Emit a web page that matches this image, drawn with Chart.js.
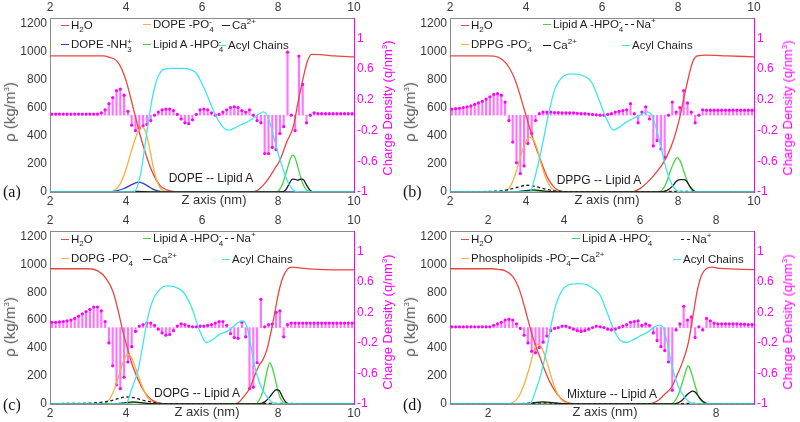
<!DOCTYPE html>
<html>
<head>
<meta charset="utf-8">
<script src="https://cdn.jsdelivr.net/npm/chart.js@4.4.1/dist/chart.umd.min.js"></script>
<style>
  body { margin:0; background:#fff; font-family:"Liberation Sans", Arial, sans-serif; }
  #wrap { position:relative; width:800px; height:422px; overflow:hidden; }
  .panel { position:absolute; width:400px; height:211px; }
  .panel canvas { position:absolute; left:0; top:0; }
  .txt { position:absolute; white-space:nowrap; line-height:16px; color:#1e1e1e; transform:translate(0,-50%); }
  .mid { transform:translate(-50%,-50%); }
  .rot { transform:translate(-50%,-50%) rotate(-90deg); }
  .lg { font-size:11.5px; }
  .note { font-size:12px; }
  .zl { font-size:13px; color:#333; }
  .tag { font-family:"Liberation Serif", "Times New Roman", serif; font-size:16px; color:#111; }
  .ytl { font-size:15px; color:#555; }
  .ytr { font-size:13px; color:#ff00ff; }
  .sw { display:inline-block; width:8px; height:0; border-top:1.4px solid; vertical-align:middle; margin:0 2px 0 0; }
  .sw.dash { border-top-style:dashed; width:9px; margin-left:2px; }
  .ss { display:inline-block; vertical-align:-4px; font-size:8px; line-height:8px; }
  .ss span { display:block; }
  sub, sup { font-size:8px; line-height:0; }
</style>
</head>
<body>
<div id="wrap"></div>
<script>
// ---- tick labels
const rhoTicks = [0, 200, 400, 600, 800, 1000, 1200];
const chargeTicks = [-1, -0.6, -0.2, 0.2, 0.6, 1];
const zTicksABC = [2, 4, 6, 8, 10];
const zTicksD = [2, 4, 6, 8];
const BIN = 0.1;

// ---- (a) DOPE -- Lipid A : [z (nm), rho (kg/m3)]
const aWater = [[2,968],[3.4,968],[3.53,962],[3.75,935],[3.88,880],[4.01,785],[4.14,653],[4.25,535],[4.36,416],[4.49,297],[4.62,190],[4.74,115],[4.9,45],[5.07,15],[5.3,2],[5.5,0],[7.25,0],[7.45,10],[7.6,45],[7.75,95],[7.9,160],[8.05,226],[8.23,356],[8.4,463],[8.53,641],[8.66,808],[8.77,927],[8.88,979],[9.1,978],[9.5,968],[10,962]];
const aPO4 = [[2,0],[3.55,0],[3.7,12],[3.85,60],[4.0,160],[4.15,300],[4.3,420],[4.4,465],[4.5,440],[4.6,340],[4.7,200],[4.8,90],[4.9,30],[5.0,8],[5.1,0],[10,0]];
const aNH3 = [[2,0],[3.55,0],[3.75,8],[3.95,25],[4.1,45],[4.25,65],[4.32,70],[4.45,62],[4.6,38],[4.75,15],[4.9,4],[5.05,0],[10,0]];
const aHPO4 = [[2,0],[7.95,0],[8.05,20],[8.15,80],[8.25,170],[8.33,240],[8.39,262],[8.46,235],[8.55,150],[8.65,60],[8.75,15],[8.85,2],[8.95,0],[10,0]];
const aCa = [[2,0],[3.9,0],[4.3,5],[4.7,0],[8.1,0],[8.2,15],[8.3,60],[8.38,92],[8.45,90],[8.52,84],[8.6,92],[8.66,90],[8.75,50],[8.85,10],[8.95,0],[10,0]];
const aAcyl = [[2,0],[4.2,0],[4.3,40],[4.4,150],[4.5,330],[4.6,520],[4.7,680],[4.8,790],[4.9,850],[5.0,872],[5.2,880],[5.5,880],[5.7,870],[5.85,845],[6.0,770],[6.15,680],[6.3,580],[6.45,500],[6.6,450],[6.72,440],[6.85,455],[7.0,475],[7.2,500],[7.35,525],[7.5,555],[7.62,570],[7.7,550],[7.8,480],[7.9,380],[8.0,280],[8.1,190],[8.2,110],[8.3,50],[8.4,15],[8.5,2],[8.6,0],[10,0]];
const aCharge = [0.015,0.015,0.015,0.015,0.015,0.015,0.015,0.015,0.015,0.015,0.015,0.015,0.015,
  0.03,0.07,0.15,0.23,0.32,0.34,0.26,0.05,-0.13,-0.2,-0.17,-0.14,-0.12,-0.07,0.0,0.04,0.07,0.08,
  0.08,0.06,0.01,-0.05,-0.1,-0.11,-0.06,0.01,0.07,0.08,0.07,0.03,0.0,0.01,0.04,0.07,0.1,0.11,0.1,
  0.06,0.04,0.07,0.0,-0.07,-0.1,-0.5,-0.5,-0.42,-0.45,-0.24,-0.15,0.82,0.0,-0.2,0.77,0.4,-0.1,0.0,0.03,
  0.02,0.02,0.02,0.02,0.02,0.02,0.02,0.02,0.02,0.02];

// ---- (b) DPPG -- Lipid A
const bWater = [[2,968],[3.0,968],[3.26,960],[3.48,915],[3.66,832],[3.79,737],[3.92,618],[4.05,499],[4.18,380],[4.32,273],[4.45,178],[4.58,95],[4.72,40],[4.85,12],[5.0,2],[5.2,0],[6.7,0],[6.85,5],[7.0,24],[7.18,65],[7.37,120],[7.57,190],[7.7,250],[7.88,368],[8.05,535],[8.18,700],[8.3,843],[8.4,935],[8.51,968],[8.75,974],[9.3,968],[10,962]];
const bPO4 = [[2,0],[3.4,0],[3.5,10],[3.6,45],[3.7,110],[3.8,200],[3.9,290],[4.0,360],[4.1,388],[4.2,370],[4.3,300],[4.4,200],[4.5,115],[4.6,55],[4.7,20],[4.85,5],[5.0,0],[10,0]];
const bHPO4 = [[2,0],[3.8,0],[4.2,8],[4.6,0],[7.5,0],[7.6,20],[7.7,70],[7.8,150],[7.9,215],[7.98,245],[8.05,225],[8.15,150],[8.25,70],[8.35,20],[8.45,0],[10,0]];
const bNa = [[2,2],[3.0,4],[3.5,15],[3.8,35],[4.0,48],[4.2,42],[4.4,28],[4.7,10],[5.0,3],[5.3,0],[7.3,0],[7.8,4],[8.3,4],[8.6,2],[10,2]];
const bCa = [[2,0],[3.7,0],[4.0,10],[4.2,15],[4.4,10],[4.7,2],[5.0,0],[7.5,0],[7.7,10],[7.85,40],[7.95,75],[8.05,88],[8.15,88],[8.22,80],[8.3,45],[8.4,12],[8.5,0],[10,0]];
const bAcyl = [[2,0],[4.1,0],[4.23,100],[4.4,297],[4.58,535],[4.75,725],[4.97,820],[5.19,840],[5.46,832],[5.72,784],[5.89,680],[6.0,600],[6.12,520],[6.3,440],[6.47,463],[6.65,499],[6.82,523],[7.0,546],[7.18,570],[7.31,546],[7.44,440],[7.57,297],[7.7,154],[7.83,59],[7.95,12],[8.1,0],[10,0]];
const bCharge = [0.08,0.085,0.09,0.1,0.11,0.12,0.14,0.16,0.18,0.21,0.24,0.27,0.28,0.26,0.17,
  -0.07,-0.35,-0.62,-0.76,-0.66,-0.37,-0.24,-0.07,0.02,0.04,0.04,0.04,0.035,0.035,0.03,0.03,0.03,0.03,
  0.025,0.02,0.02,0.015,0.01,0.005,0.0,0.0,0.01,0.02,0.04,0.05,0.06,0.07,0.15,0.02,-0.1,0.04,0.11,-0.05,
  -0.4,-0.33,-0.44,-0.55,0.0,0.17,0.04,0.1,0.32,0.16,0.04,-0.1,0.0,0.07,
  0.065,0.065,0.065,0.065,0.065,0.065,0.065,0.065,0.065,0.065,0.065,0.065,0.065];

// ---- (c) DOPG -- Lipid A
const cWater = [[2,968],[3.0,968],[3.26,953],[3.48,898],[3.66,803],[3.79,672],[3.92,518],[4.05,387],[4.18,268],[4.32,173],[4.45,102],[4.58,55],[4.72,22],[4.9,5],[5.1,0],[6.8,0],[6.95,8],[7.09,50],[7.26,115],[7.39,205],[7.5,275],[7.61,320],[7.72,400],[7.82,520],[7.92,660],[8.01,790],[8.12,900],[8.25,965],[8.36,980],[8.6,972],[9.2,962],[10,960]];
const cPO4 = [[2,0],[3.35,0],[3.5,15],[3.6,50],[3.7,110],[3.8,190],[3.9,280],[4.0,345],[4.05,355],[4.15,330],[4.25,260],[4.35,180],[4.45,110],[4.55,55],[4.65,25],[4.8,5],[4.95,0],[10,0]];
const cHPO4 = [[2,0],[3.8,0],[4.25,10],[4.7,0],[7.4,0],[7.5,25],[7.6,90],[7.7,220],[7.78,295],[7.85,260],[7.95,150],[8.05,50],[8.15,10],[8.25,0],[10,0]];
const cNa = [[2,3],[3.0,6],[3.5,18],[3.8,38],[4.0,50],[4.2,45],[4.4,30],[4.7,12],[5.0,3],[5.3,0],[7.3,0],[7.8,5],[8.3,4],[8.6,2],[10,2]];
const cCa = [[2,0],[3.7,0],[4.0,10],[4.2,15],[4.4,10],[4.7,2],[5.0,0],[7.5,0],[7.65,15],[7.75,40],[7.85,75],[7.95,102],[8.02,100],[8.1,60],[8.2,15],[8.3,0],[10,0]];
const cAcyl = [[2,0],[4.0,0],[4.14,100],[4.32,245],[4.45,435],[4.58,625],[4.71,744],[4.89,820],[5.06,846],[5.28,839],[5.5,803],[5.72,696],[5.94,525],[6.12,440],[6.3,465],[6.47,500],[6.65,518],[6.82,554],[6.96,585],[7.07,594],[7.18,554],[7.26,459],[7.35,316],[7.46,197],[7.57,114],[7.7,55],[7.85,12],[8.0,0],[10,0]];
const cCharge = [0.07,0.07,0.075,0.08,0.09,0.1,0.12,0.15,0.18,0.21,0.24,0.27,0.27,0.22,0.08,
  -0.2,-0.5,-0.75,-0.8,-0.65,-0.45,-0.25,-0.05,0.02,0.04,0.06,0.06,0.03,-0.02,-0.07,-0.1,-0.09,-0.04,
  0.02,0.05,0.04,0.02,0.01,0.01,0.02,0.02,0.03,0.04,0.06,0.08,0.08,0.03,-0.08,-0.13,-0.14,0.07,-0.12,
  -0.8,-0.78,-0.46,0.37,0.01,0.04,0.05,0.2,0.22,-0.12,0.04,
  0.06,0.06,0.06,0.06,0.06,0.06,0.06,0.06,0.06,0.06,0.06,0.06,0.06,0.06,0.06,0.06,0.06];

// ---- (d) Mixture -- Lipid A
const dWater = [[1,968],[2.1,968],[2.3,962],[2.44,955],[2.66,910],[2.83,815],[2.96,696],[3.1,554],[3.23,435],[3.36,340],[3.49,245],[3.62,162],[3.75,100],[3.9,45],[4.05,15],[4.25,2],[4.4,0],[6.2,0],[6.35,8],[6.5,30],[6.65,70],[6.83,120],[7.0,221],[7.14,316],[7.27,435],[7.4,640],[7.51,815],[7.62,922],[7.75,969],[7.89,980],[8.1,970],[9,962]];
const dPO4 = [[1,0],[2.5,0],[2.65,10],[2.8,50],[2.95,140],[3.1,270],[3.22,390],[3.32,428],[3.42,400],[3.55,300],[3.68,180],[3.8,90],[3.92,35],[4.05,10],[4.2,0],[9,0]];
const dHPO4 = [[1,0],[6.8,0],[6.9,15],[7.0,60],[7.1,140],[7.2,230],[7.26,272],[7.32,250],[7.42,160],[7.52,70],[7.62,20],[7.72,3],[7.8,0],[9,0]];
const dNa = [[1,2],[2.8,3],[3.2,7],[3.45,9],[3.8,5],[4.3,0],[6.8,0],[7.3,4],[7.8,2],[9,2]];
const dCa = [[1,0],[2.9,0],[3.2,8],[3.45,15],[3.7,10],[4.0,2],[4.3,0],[6.9,0],[7.0,8],[7.1,25],[7.2,55],[7.3,80],[7.38,92],[7.45,85],[7.55,50],[7.65,20],[7.75,5],[7.85,0],[9,0]];
const dAcyl = [[1,0],[3.1,0],[3.23,78],[3.4,221],[3.54,387],[3.67,577],[3.8,720],[3.97,820],[4.19,858],[4.41,862],[4.63,851],[4.82,815],[4.95,780],[5.1,680],[5.3,540],[5.47,459],[5.65,440],[5.82,459],[6.0,487],[6.22,518],[6.39,554],[6.53,565],[6.61,545],[6.7,459],[6.79,340],[6.89,221],[7.01,126],[7.14,62],[7.3,15],[7.45,0],[9,0]];
const dCharge = [0.01,0.01,0.01,0.01,0.01,0.01,0.01,0.01,0.01,0.01,0.01,
  0.03,0.05,0.07,0.1,0.11,0.1,0.05,-0.01,-0.1,-0.2,-0.31,-0.33,-0.26,-0.19,-0.11,-0.04,-0.01,0.0,0.02,0.02,
  0.0,-0.02,-0.04,-0.05,-0.04,-0.02,0.0,0.02,0.01,0.0,-0.02,-0.03,-0.02,0.0,0.02,0.04,0.07,0.08,0.09,
  0.03,0.05,0.03,-0.07,-0.17,-0.25,-0.3,-0.45,-0.82,-0.03,0.05,0.28,0.1,0.14,-0.13,0.01,-0.03,0.12,0.09,0.06,
  0.05,0.05,0.05,0.05,0.05,0.05,0.045,0.045,0.04,0.04];

// ---- styles
const FONT = '"Liberation Sans", Arial, Helvetica, sans-serif';
const RED = '#e8463f', ORANGE = '#f6b13c', BLUE = '#3b3bd0', GREEN = '#42d442',
      BLACK = '#1e1e1e', CYAN = '#3ee6ec', MAG = '#ff00ff', STEM = 'rgba(255,0,255,0.55)',
      AXIS = '#8a8a8a', TICK = '#3a3a3a';
const RHO_MAX = 1238, Q_MAX = 1.265;
Chart.defaults.font.family = FONT;

// stacked sub/superscript like PO4^-
function SS(sup, sub){ return '<span class="ss"><span>' + sup + '</span><span>' + sub + '</span></span>'; }
const H2O = 'H<sub>2</sub>O', CA = 'Ca<sup>2+</sup>', NA = 'Na<sup>+</sup>';

const panels = [
  { left:0, top:0, zMin:2, zMax:10, zTicks:zTicksABC, hideBottom:[6], binStart:2.05, charge:aCharge,
    topH:18, botH:19,
    curves:[{data:aWater,color:RED},{data:aPO4,color:ORANGE},{data:aNH3,color:BLUE},{data:aHPO4,color:GREEN},{data:aCa,color:BLACK},{data:aAcyl,color:CYAN}],
    legend:[[61,25,[[RED,0,H2O]]],[143,25,[[ORANGE,0,'DOPE -PO'+SS('-','4')]]],[222,25,[[BLACK,0,CA]]],
            [61,45,[[BLUE,0,'DOPE -NH'+SS('+','3')]]],[143,45,[[GREEN,0,'Lipid A -HPO'+SS('-','4')]]],[218,45,[[CYAN,0,'Acyl Chains']]]],
    note:['DOPE -- Lipid A',211,178], zLabel:[214,200], tag:['(a)',3,192], yt:[10,112,388,108] },
  { left:400, top:0, zMin:2, zMax:10, zTicks:zTicksABC, hideBottom:[6], binStart:2.05, charge:bCharge,
    topH:18, botH:19,
    curves:[{data:bWater,color:RED},{data:bPO4,color:ORANGE},{data:bHPO4,color:GREEN},{data:bNa,color:BLACK,dash:true},{data:bCa,color:BLACK},{data:bAcyl,color:CYAN}],
    legend:[[61,25,[[RED,0,H2O]]],[143,25,[[GREEN,0,'Lipid A -HPO'+SS('-','4')],[BLACK,1,NA]]],
            [61,45,[[ORANGE,0,'DPPG -PO'+SS('-','4')]]],[143,45,[[BLACK,0,CA]]],[222,45,[[CYAN,0,'Acyl Chains']]]],
    note:['DPPG -- Lipid A',199,180], zLabel:[207,200], tag:['(b)',3,192], yt:[10,112,388,108] },
  { left:0, top:211, zMin:2, zMax:10, zTicks:zTicksABC, hideBottom:[6], binStart:2.05, charge:cCharge,
    topH:20, botH:18,
    curves:[{data:cWater,color:RED},{data:cPO4,color:ORANGE},{data:cHPO4,color:GREEN},{data:cNa,color:BLACK,dash:true},{data:cCa,color:BLACK},{data:cAcyl,color:CYAN}],
    legend:[[61,28,[[RED,0,H2O]]],[143,28,[[GREEN,0,'Lipid A -HPO'+SS('-','4')],[BLACK,1,NA]]],
            [61,48,[[ORANGE,0,'DOPG -PO'+SS('-','4')]]],[143,48,[[BLACK,0,CA]]],[222,48,[[CYAN,0,'Acyl Chains']]]],
    note:['DOPG -- Lipid A',197,182], zLabel:[207,201], tag:['(c)',3,194], yt:[10,116,388,111] },
  { left:400, top:211, zMin:1, zMax:9, zTicks:zTicksD, hideBottom:[4,6], binStart:1.05, charge:dCharge,
    topH:20, botH:18,
    curves:[{data:dWater,color:RED},{data:dPO4,color:ORANGE},{data:dHPO4,color:GREEN},{data:dNa,color:BLACK,dash:true},{data:dCa,color:BLACK},{data:dAcyl,color:CYAN}],
    legend:[[61,28,[[RED,0,H2O]]],[172,28,[[GREEN,0,'Lipid A -HPO'+SS('-','4')]]],[279,28,[[BLACK,1,NA]]],
            [61,48,[[ORANGE,0,'Phospholipids -PO'+SS('-','4')],[BLACK,0,CA]]],[273,48,[[CYAN,0,'Acyl Chains']]]],
    note:['Mixture -- Lipid A',212,183], zLabel:[205,201], tag:['(d)',3,194], yt:[10,116,388,111] }
];

function addText(box, html, x, y, cls){
  const el = document.createElement('div');
  el.className = 'txt ' + cls;
  el.innerHTML = html;
  el.style.left = x + 'px';
  el.style.top = y + 'px';
  box.appendChild(el);
  return el;
}

function fixedTicks(vals){
  return s => { s.ticks = vals.map(v => ({value: v})); };
}

function buildPanel(p){
  const box = document.createElement('div');
  box.className = 'panel';
  box.style.left = p.left + 'px';
  box.style.top = p.top + 'px';
  document.getElementById('wrap').appendChild(box);
  const cv = document.createElement('canvas');
  cv.width = 400; cv.height = 211;
  box.appendChild(cv);

  // charge density stems: bins of 0.1 nm
  const stems = p.charge.map((q, k) => ({x: Math.round((p.binStart + k * BIN) * 100) / 100, y: q}));
  const datasets = [
    {type:'bar', data:stems, xAxisID:'x', yAxisID:'yR', backgroundColor:STEM, barThickness:1.5, order:100},
    {type:'line', data:stems, xAxisID:'x', yAxisID:'yR', showLine:false, pointRadius:1.6,
     pointBackgroundColor:MAG, pointBorderWidth:0, order:99}
  ];
  p.curves.forEach((c, i) => {
    datasets.push({
      type:'line', data:c.data.map(([x, y]) => ({x, y})), xAxisID:'x', yAxisID:'y',
      borderColor:c.color, borderWidth:1.3, borderDash:c.dash ? [3, 2.5] : [],
      pointRadius:0, fill:false, cubicInterpolationMode:'monotone', order:50 - i
    });
  });

  const tickFont = {family:FONT, size:12};
  const noGrid = {display:false, drawTicks:false, offset:false};
  new Chart(cv, {
    type:'line',
    data:{datasets},
    options:{
      responsive:false, animation:false,
      layout:{padding:0},
      plugins:{legend:{display:false}, tooltip:{enabled:false}},
      scales:{
        x:{type:'linear', position:'bottom', min:p.zMin, max:p.zMax, offset:false,
           afterBuildTicks:fixedTicks(p.zTicks), afterFit:s => { s.height = p.botH; },
           grid:noGrid, border:{color:AXIS},
           ticks:{autoSkip:false, maxRotation:0, padding:2, color:TICK, font:tickFont,
                  callback:v => p.hideBottom.includes(v) ? '' : String(v)}},
        xTop:{type:'linear', position:'top', min:p.zMin, max:p.zMax, offset:false,
           afterBuildTicks:fixedTicks(p.zTicks), afterFit:s => { s.height = p.topH; },
           grid:noGrid, border:{color:AXIS},
           ticks:{autoSkip:false, maxRotation:0, padding:3, color:TICK, font:tickFont, callback:v => String(v)}},
        y:{type:'linear', position:'left', min:0, max:RHO_MAX,
           afterBuildTicks:fixedTicks(rhoTicks), afterFit:s => { s.width = 50; },
           grid:noGrid, border:{color:AXIS},
           ticks:{autoSkip:false, padding:3, color:TICK, font:tickFont, callback:v => String(v)}},
        yR:{type:'linear', position:'right', min:-1, max:Q_MAX,
           afterBuildTicks:fixedTicks(chargeTicks), afterFit:s => { s.width = 46; },
           grid:noGrid, border:{color:MAG},
           ticks:{autoSkip:false, padding:3, color:MAG, font:tickFont, callback:v => String(v)}}
      }
    }
  });

  // overlays: legend, labels, axis titles
  p.legend.forEach(([x, y, items]) => {
    const html = items.map(([col, dash, txt]) =>
      '<span class="sw' + (dash ? ' dash' : '') + '" style="border-top-color:' + col + '"></span>' + txt).join('');
    addText(box, html, x, y, 'lg');
  });
  addText(box, p.note[0], p.note[1], p.note[2], 'note mid');
  addText(box, 'Z axis (nm)', p.zLabel[0], p.zLabel[1], 'zl mid');
  addText(box, p.tag[0], p.tag[1], p.tag[2], 'tag');
  addText(box, '&rho; (kg/m<sup>3</sup>)', p.yt[0], p.yt[1], 'ytl rot');
  addText(box, 'Charge Density (q/nm<sup>3</sup>)', p.yt[2], p.yt[3], 'ytr rot');
}

panels.forEach(buildPanel);
</script>
</body>
</html>
